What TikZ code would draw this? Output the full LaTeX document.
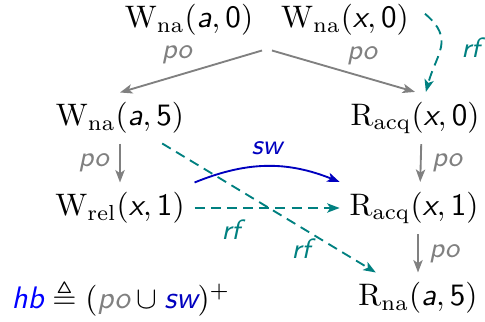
\documentclass[tikz,border=0pt]{standalone}
\usepackage{amsmath,amssymb}
\usepackage{tikz}
\usetikzlibrary{arrows.meta,calc}

\newcommand{\sv}[1]{\textsf{\itshape #1}}
\newcommand{\sn}[1]{\textsf{#1}}
\newcommand{\evt}[4]{\ensuremath{\mathrm{#1}_{\mathrm{#2}}(\sv{#3},\sn{#4})}}

\begin{document}
\begin{tikzpicture}[
    x=1.13cm, y=1.13cm,
    event/.style={inner sep=3pt},
    lbl/.style={font=\small\sffamily\itshape},
    poedge/.style={-{Stealth[length=4pt,width=3pt,inset=1pt]}, semithick, gray},
    rfedge/.style={-{Stealth[length=4pt,width=3pt,inset=1pt]}, semithick, teal, dash pattern=on 3.2pt off 2pt},
    swedge/.style={-{Stealth[length=4pt,width=3pt,inset=1pt]}, semithick, blue!75!black}
]
\useasboundingbox (0,0) rectangle (4.85,3.21);

% --- Events ---
\node[event] (wa0) at (1.89, 3.01) {\evt{W}{na}{a}{0}};
\node[event] (wx0) at (3.45, 3.01) {\evt{W}{na}{x}{0}};
\node[event] (wa5) at (1.20, 2.03) {\evt{W}{na}{a}{5}};
\node[event] (rx0) at (4.15, 2.03) {\evt{R}{acq}{x}{0}};
\node[event] (wx1) at (1.20, 1.13) {\evt{W}{rel}{x}{1}};
\node[event] (rx1) at (4.14, 1.13) {\evt{R}{acq}{x}{1}};
\node[event] (ra5) at (4.18, 0.23) {\evt{R}{na}{a}{5}};

% Definition of hb
\node (hb) at (1.21, 0.23) {$\textcolor{blue}{\sv{hb}} \triangleq (\textcolor{gray}{\sv{po}} \cup \textcolor{blue!75!black}{\sv{sw}})^{+}$};

% --- po edges ---
\coordinate (init) at ($(wa0.south)!0.5!(wx0.south)+(0,-0.05)$);
\draw[poedge] ([xshift=-1.6pt]init) -- (wa5.north) node[pos=0.6, above, lbl, text=gray] {po};
\draw[poedge] ([xshift=1.6pt]init) -- (rx0.north) node[pos=0.63, above, lbl, text=gray] {po};
\draw[poedge] (wa5) -- (wx1) node[midway, left, lbl, text=gray] {po};
\draw[poedge] ([xshift=2pt]rx0.south) -- ([xshift=2pt]rx1.north) node[midway, right, lbl, text=gray] {po};
\draw[poedge] (rx1.south -| ra5.north) -- (ra5.north) node[midway, right, lbl, text=gray] {po};

% --- rf edges ---
\draw[rfedge] ([shift={(2pt,2pt)}]wx0.east) to[out=-40, in=75, looseness=1.3]
    node[midway, right=3pt, lbl] {rf} ([xshift=3.5pt]rx0.north);
\draw[rfedge] (wx1.east) -- (rx1.west) node[pos=0.25, below, lbl] {rf};
\draw[rfedge] (wa5) -- (ra5) node[pos=0.65, below, lbl] {rf};

% --- sw edge ---
\draw[swedge] (wx1.north east) to[bend left=22] node[midway, above, lbl, text=blue!75!black] {sw} (rx1.north west);

\end{tikzpicture}
\end{document}
